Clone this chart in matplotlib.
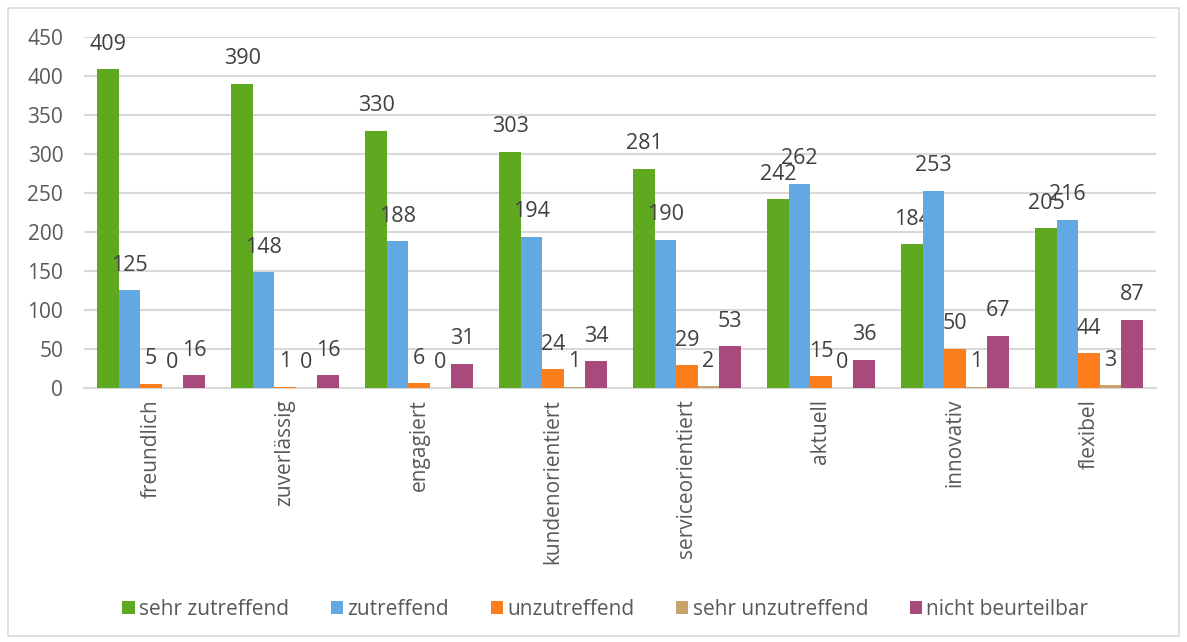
import numpy as np
import matplotlib.pyplot as plt
from matplotlib.patches import Rectangle

categories = ["freundlich", "zuverlässig", "engagiert", "kundenorientiert",
              "serviceorientiert", "aktuell", "innovativ", "flexibel"]
series_names = ["sehr zutreffend", "zutreffend", "unzutreffend",
                "sehr unzutreffend", "nicht beurteilbar"]
sehr_zutreffend = [409, 390, 330, 303, 281, 242, 184, 205]
zutreffend = [125, 148, 188, 194, 190, 262, 253, 216]
unzutreffend = [5, 1, 6, 24, 29, 15, 50, 44]
sehr_unzutreffend = [0, 0, 0, 1, 2, 0, 1, 3]
nicht_beurteilbar = [16, 16, 31, 34, 53, 36, 67, 87]
y_ticks = [0, 50, 100, 150, 200, 250, 300, 350, 400, 450]

series = [sehr_zutreffend, zutreffend, unzutreffend, sehr_unzutreffend, nicht_beurteilbar]
colors = ["#5fa920", "#62a8e2", "#fb7d1c", "#c9a16d", "#a84a7b"]

plt.rcParams['font.family'] = ['Open Sans', 'DejaVu Sans']

fig = plt.figure(figsize=(11.87, 6.42), dpi=100)
ax = fig.add_axes([0.0708, 0.396, 0.903, 0.546])

# light frame round the whole chart
fig.patches.append(Rectangle((8 / 1187, 6 / 642), 1171 / 1187, 628 / 642,
                             transform=fig.transFigure, fill=False,
                             edgecolor="#d9d9d9", linewidth=1.2))

x = np.arange(len(categories))
w = 0.16
for i, (vals, name, c) in enumerate(zip(series, series_names, colors)):
    pos = x + (i - 2) * w
    ax.bar(pos, vals, width=w, color=c, label=name, zorder=3)
    for px, v in zip(pos, vals):
        ax.annotate(str(v), (px, v), xytext=(0, 18), textcoords="offset points",
                    ha="center", va="center", fontsize=15.5, color="#404040")

ax.set_xlim(-0.5, len(categories) - 0.5)
ax.set_ylim(0, 450)
ax.set_yticks(y_ticks)
ax.set_xticks(x)
ax.set_xticklabels(categories, rotation=90, fontsize=15, color="#595959")
ax.tick_params(axis="y", length=0, pad=15, labelsize=15, labelcolor="#595959")
ax.tick_params(axis="x", length=0, pad=8)
ax.grid(axis="y", color="#d9d9d9", linewidth=1.5, zorder=0)
for s in ["top", "right", "left"]:
    ax.spines[s].set_visible(False)
ax.spines["bottom"].set_color("#d9d9d9")
ax.spines["bottom"].set_linewidth(1.5)

fig.legend(loc="center", bbox_to_anchor=(0.51, 0.051), ncol=5, frameon=False,
           fontsize=15, labelcolor="#595959", handlelength=0.6, handleheight=0.6,
           handletextpad=0.2, columnspacing=2.0)

fig.savefig("out.png", dpi=100)
